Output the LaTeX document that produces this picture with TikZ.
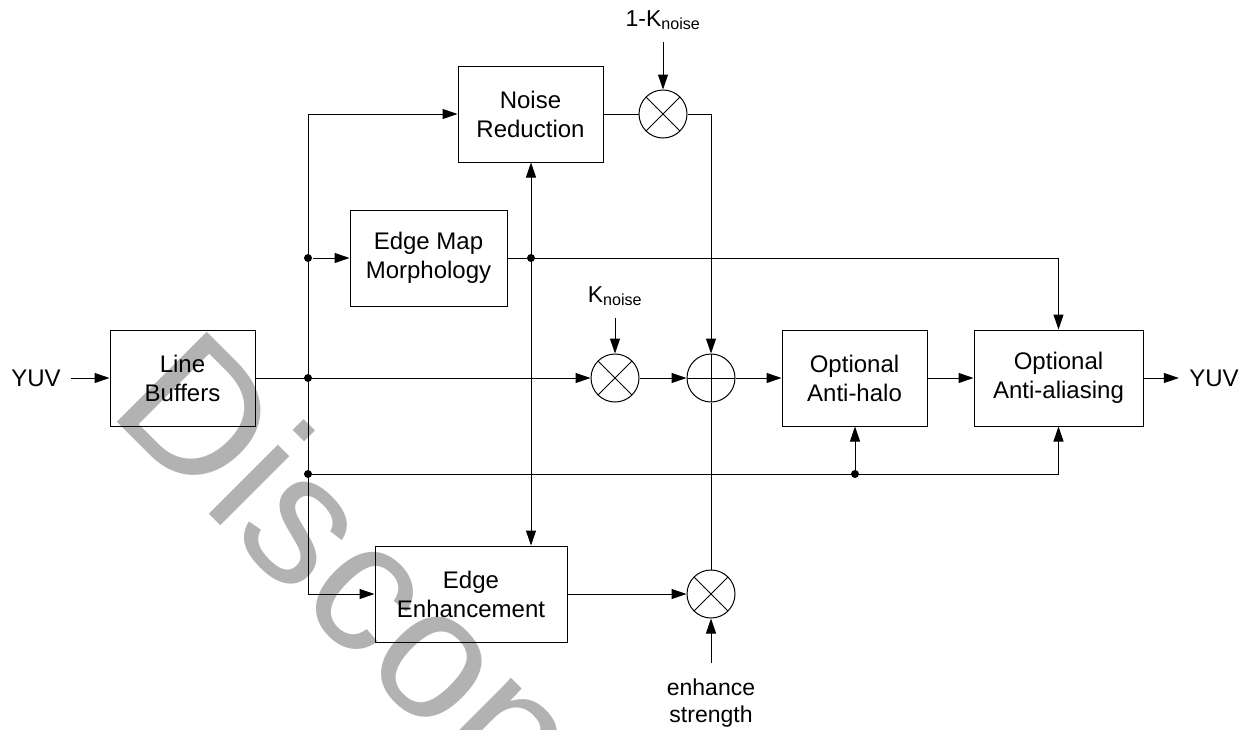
\documentclass[tikz,border=0pt]{standalone}
\usepackage{fontspec}
\setmainfont{Liberation Sans}
\usetikzlibrary{arrows.meta,positioning}

\tikzset{
  >={Triangle[length=15pt,width=10pt]},
  block/.style={draw, minimum height=96pt, inner sep=2pt, align=center,
    font=\fontsize{24}{29}\selectfont},
  mult/.style={draw, circle, minimum size=48pt, inner sep=0pt,
    path picture={\draw (path picture bounding box.north west) -- (path picture bounding box.south east)
      (path picture bounding box.north east) -- (path picture bounding box.south west);}},
  summ/.style={draw, circle, minimum size=48pt, inner sep=0pt,
    path picture={\draw (path picture bounding box.north) -- (path picture bounding box.south)
      (path picture bounding box.west) -- (path picture bounding box.east);}},
  jdot/.style={circle, fill, inner sep=0pt, minimum size=8pt},
  io/.style={inner xsep=10pt, inner ysep=0pt, font=\fontsize{24}{29}\selectfont},
  lbl/.style={inner sep=0pt, align=center, font=\fontsize{23}{27}\selectfont}
}

\begin{document}
\begin{tikzpicture}[x=1pt,y=-1pt,line width=1pt]
  \useasboundingbox (0,0) rectangle (1247,729);
  \begin{scope}
    \clip (0,0) rectangle (1247,729);
    \node[rotate=-45, anchor=base west, inner sep=0pt, text=black!30,
      font=\fontsize{185}{185}\selectfont] (wmark) at (106,411) {Discontinued};
  \end{scope}

  % blocks
  \node[block, minimum width=145pt] (lbuf) at (182.5,378) {Line\\Buffers};
  \node[block, minimum width=145pt] (nred) at (530.5,114) {Noise\\Reduction};
  \node[block, minimum width=157pt] (emap) at (428.5,258) {Edge Map\\Morphology};
  \node[block, minimum width=192pt] (eenh) at (471,594) {Edge\\Enhancement};
  \node[block, minimum width=145pt] (ahalo) at (854.5,378) {Optional\\Anti-halo};
  \node[block, minimum width=169pt] (aalias) at (1058.5,378) {Optional\\Anti-aliasing};

  \node[mult] (mtop) at (663,114) {};
  \node[mult] (mmid) at (615,378) {};
  \node[summ] (add) at (711,378) {};
  \node[mult] (mbot) at (711,594) {};

  \node[io] (yin) at (36,378) {YUV};
  \node[io] (yout) at (1214,378) {YUV};
  \node[lbl, anchor=base] (kone) at (663,26) {1-K\textsubscript{noise}};
  \node[lbl, anchor=base] (knoise) at (615,302) {K\textsubscript{noise}};
  \node[lbl, anchor=north] (estr) at (711,678) {enhance\\strength};

  \coordinate (kone0) at (663,42);
  \coordinate (knoise0) at (615,318);
  \coordinate (estr0) at (711,663);

  \node[jdot] (j1) at (308,378) {};
  \node[jdot] (j2) at (308,258) {};
  \node[jdot] (j3) at (308,474) {};
  \node[jdot] (j4) at (531,258) {};
  \node[jdot] (j5) at (855,474) {};

  % main path
  \draw[->] (yin) -- (lbuf);
  \draw[->] (lbuf) -- (mmid);
  \draw[->] (mmid) -- (add);
  \draw[->] (add) -- (ahalo);
  \draw[->] (ahalo) -- (aalias);
  \draw[->] (aalias) -- (yout);

  % bus
  \draw[->] (j1.center) |- (nred);
  \draw[->] (j1.center) |- (eenh);
  \draw[->] (j2) -- (emap);
  \draw (emap) -- (j4);
  \draw[->] (j4.center) -- (j4 |- nred.south);
  \draw[->] (j4.center) -- (j4 |- eenh.north);
  \draw[->] (j4.center) -| (aalias);
  \draw[->] (j3.center) -| (aalias);
  \draw[->] (j5.center) -- (j5 |- ahalo.south);

  % weights
  \draw (nred) -- (mtop);
  \draw[->] (mtop) -| (add);
  \draw[->] (kone0) -- (mtop);
  \draw[->] (knoise0) -- (mmid);
  \draw[->] (eenh) -- (mbot);
  \draw (mbot) -- (add);
  \draw[->] (estr0) -- (mbot);
\end{tikzpicture}
\end{document}
